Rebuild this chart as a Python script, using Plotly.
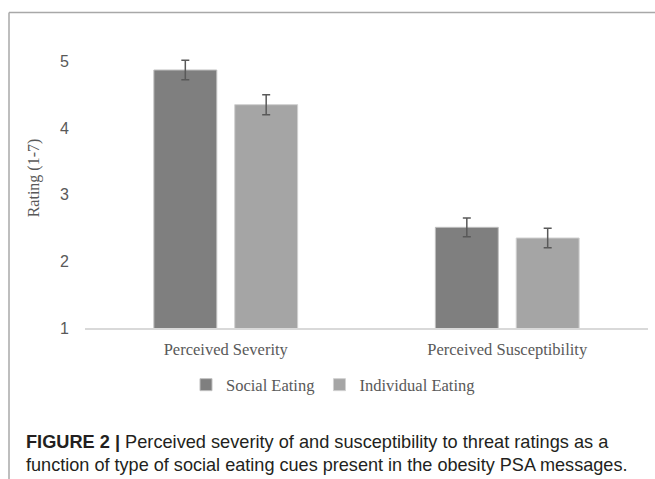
import plotly.graph_objects as go

categories = ["Perceived Severity", "Perceived Susceptibility"]
social_eating = [4.87, 2.51]
social_err = [0.145, 0.14]
individual_eating = [4.35, 2.35]
individual_err = [0.15, 0.145]
y_ticks = [1, 2, 3, 4, 5]

W, H = 655, 479
ml, mr, mt, mb = 85, 7, 27.6, 151
pw, ph = W - ml - mr, H - mt - mb

def px_x(x):
    return (x - ml) / pw

def px_y(y):
    return (H - mb - y) / ph

fig = go.Figure()
fig.add_trace(go.Bar(
    name="Social Eating", x=categories, y=social_eating,
    marker=dict(color="#7f7f7f", line=dict(color="#bfbfbf", width=1)),
    error_y=dict(type="data", array=social_err, color="#595959", thickness=1.5, width=4),
))
fig.add_trace(go.Bar(
    name="Individual Eating", x=categories, y=individual_eating,
    marker=dict(color="#a5a5a5", line=dict(color="#d0d0d0", width=1)),
    error_y=dict(type="data", array=individual_err, color="#595959", thickness=1.5, width=4),
))

fig.update_layout(
    width=W, height=H,
    margin=dict(l=ml, r=mr, t=mt, b=mb, autoexpand=False),
    plot_bgcolor="white", paper_bgcolor="white",
    barmode="group", bargap=0.4255, bargroupgap=0.222,
    showlegend=True,
    legend=dict(orientation="h", x=px_x(186), y=px_y(385), xanchor="left", yanchor="middle",
                font=dict(family="Liberation Serif", size=16.5, color="#595959"),
                itemwidth=30, traceorder="normal"),
    xaxis=dict(showline=True, linecolor="#d9d9d9", linewidth=1.5, ticks="",
               ticklabelstandoff=5,
               tickfont=dict(family="Liberation Serif", size=16.5, color="#595959"),
               showgrid=False),
    yaxis=dict(range=[1, 5.5], tickvals=y_ticks, showgrid=False, zeroline=False,
               showline=False, ticks="", ticklabelstandoff=15,
               tickfont=dict(family="Liberation Sans", size=16, color="#595959"),
               title=dict(text="Rating (1-7)", standoff=16,
                          font=dict(family="Liberation Serif", size=16, color="#595959"))),
)

# Caption
fig.add_annotation(
    xref="paper", yref="paper", x=px_x(24), y=px_y(442), xanchor="left", yanchor="middle",
    text="<b>FIGURE 2</b> <b>|</b> Perceived severity of and susceptibility to threat ratings as a",
    showarrow=False, font=dict(family="Liberation Sans", size=18.2, color="#231f20"))
fig.add_annotation(
    xref="paper", yref="paper", x=px_x(24), y=px_y(465), xanchor="left", yanchor="middle",
    text="function of type of social eating cues present in the obesity PSA messages.",
    showarrow=False, font=dict(family="Liberation Sans", size=18.1, color="#231f20"))

# Frame lines
fig.add_shape(type="line", xref="paper", yref="paper", x0=px_x(9), x1=px_x(660),
              y0=px_y(12), y1=px_y(12), line=dict(color="#a8a8a8", width=1.5))
fig.add_shape(type="line", xref="paper", yref="paper", x0=px_x(9), x1=px_x(9),
              y0=px_y(12), y1=px_y(485), line=dict(color="#a8a8a8", width=1.5))

fig.write_html("out.html", config={"displayModeBar": False},
               post_script="document.body.style.margin='0';")
